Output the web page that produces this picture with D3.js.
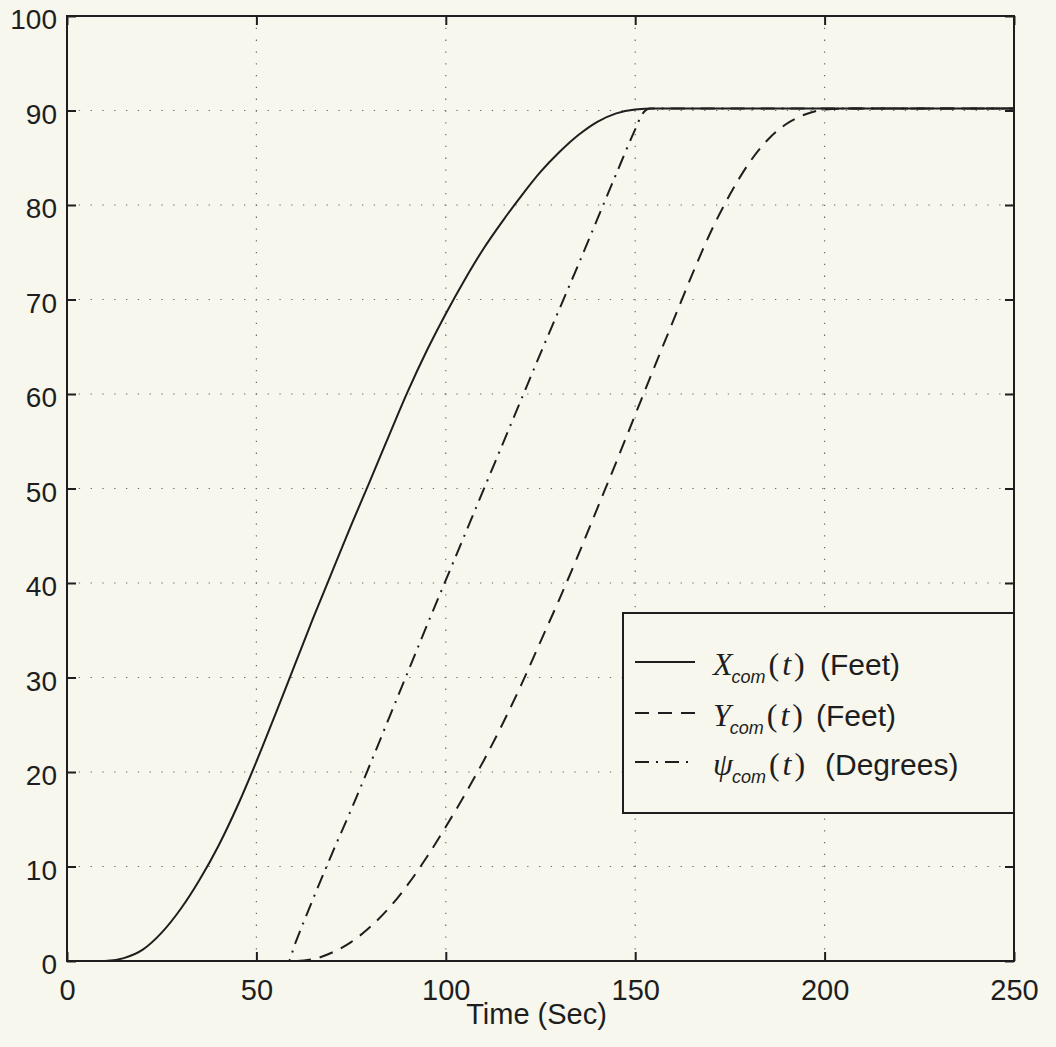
<!DOCTYPE html>
<html>
<head>
<meta charset="utf-8">
<script src="https://cdn.jsdelivr.net/npm/d3@7"></script>
<style>
  html, body { margin: 0; padding: 0; background: #f7f7ee; }
  svg { display: block; }
</style>
</head>
<body>
<svg id="chart" width="1056" height="1047"></svg>
<script>
// Axis ticks
const xTicks = [0, 50, 100, 150, 200, 250];
const yTicks = [0, 10, 20, 30, 40, 50, 60, 70, 80, 90, 100];

// X_com(t) in feet
const timeX = [0, 5, 10, 15, 20, 25, 30, 35, 40, 45, 50, 55, 60, 65, 70, 75, 80, 85, 90, 95,
               100, 105, 110, 115, 120, 125, 130, 135, 140, 145, 150, 155, 250];
const xCom  = [0, 0, 0, 0.3, 1.2, 3.0, 5.5, 8.6, 12.2, 16.4, 21.1, 26.1, 31.2, 36.3, 41.2, 46.1, 50.8, 55.6, 60.3, 64.6,
               68.5, 72.1, 75.4, 78.3, 81.0, 83.5, 85.6, 87.4, 88.8, 89.7, 90.1, 90.2, 90.2];

// Y_com(t) in feet
const timeY = [0, 60, 65, 70, 75, 80, 85, 90, 95, 100, 105, 110, 115, 120, 125, 130, 135, 140, 145,
               150, 155, 160, 165, 170, 175, 180, 185, 190, 195, 200, 205, 250];
const yCom  = [0, 0, 0.2, 0.9, 2.0, 3.6, 5.6, 8.1, 11.0, 14.2, 17.6, 21.2, 25.1, 29.3, 33.8, 38.3, 43.0, 47.9, 52.8,
               57.8, 62.8, 67.7, 72.6, 77.2, 81.1, 84.4, 86.9, 88.6, 89.6, 90.1, 90.2, 90.2];

// psi_com(t) in degrees
const timePsi = [0, 58.5, 60, 65, 70, 75, 80, 85, 90, 95, 100, 105, 110, 115, 120, 125, 130, 135, 140, 145,
                 150, 152, 154, 250];
const psiCom  = [0, 0, 1.6, 6.6, 11.4, 16.0, 20.8, 25.7, 30.6, 35.5, 40.3, 45.1, 49.9, 54.7, 59.5, 64.3, 69.0, 73.7, 78.5, 83.3,
                 88.0, 89.7, 90.2, 90.2];

const seriesNames = ["X", "Y", "psi"];

// line styles per series
const dashFor = { X: null, Y: "14,9", psi: "14,7,2,7" };

const ink = "#1e1e1e";
const bg = "#f7f7ee";

const svg = d3.select("#chart");
const plot = { left: 67, right: 1014, top: 16, bottom: 961 };

const x = d3.scaleLinear().domain([0, 250]).range([plot.left, plot.right]);
const y = d3.scaleLinear().domain([0, 100]).range([plot.bottom, plot.top]);

svg.append("rect").attr("width", 1056).attr("height", 1047).attr("fill", bg);

// dotted grid
const grid = svg.append("g").attr("stroke", "#6a6a6a").attr("stroke-width", 1.2)
  .attr("stroke-dasharray", "1.3,10.5");
grid.selectAll("line.gx").data(xTicks.slice(1, -1)).join("line")
  .attr("x1", d => x(d)).attr("x2", d => x(d))
  .attr("y1", plot.top).attr("y2", plot.bottom);
grid.selectAll("line.gy").data(yTicks.slice(1, -1)).join("line")
  .attr("y1", d => y(d)).attr("y2", d => y(d))
  .attr("x1", plot.left).attr("x2", plot.right);

// curves
const curves = {
  X: d3.zip(timeX, xCom),
  Y: d3.zip(timeY, yCom),
  psi: d3.zip(timePsi, psiCom)
};
const line = d3.line().x(d => x(d[0])).y(d => y(d[1])).curve(d3.curveMonotoneX);
svg.append("clipPath").attr("id", "plotclip").append("rect")
  .attr("x", plot.left).attr("y", plot.top)
  .attr("width", plot.right - plot.left).attr("height", plot.bottom - plot.top);
svg.append("g").attr("clip-path", "url(#plotclip)")
  .selectAll("path").data(seriesNames).join("path")
  .attr("d", k => line(curves[k]))
  .attr("fill", "none").attr("stroke", ink).attr("stroke-width", 2)
  .attr("stroke-dasharray", k => dashFor[k]);

// axes with inward ticks on all four sides
const tickLen = 9;
const fmt = d3.format("d");
const axB = svg.append("g").attr("transform", `translate(0,${plot.bottom})`)
  .call(d3.axisBottom(x).tickValues(xTicks).tickSize(-tickLen).tickFormat(fmt));
const axT = svg.append("g").attr("transform", `translate(0,${plot.top})`)
  .call(d3.axisTop(x).tickValues(xTicks).tickSize(-tickLen).tickFormat(""));
const axL = svg.append("g").attr("transform", `translate(${plot.left},0)`)
  .call(d3.axisLeft(y).tickValues(yTicks).tickSize(-tickLen).tickFormat(fmt));
const axR = svg.append("g").attr("transform", `translate(${plot.right},0)`)
  .call(d3.axisRight(y).tickValues(yTicks).tickSize(-tickLen).tickFormat(""));
[axB, axT, axL, axR].forEach(a => {
  a.select(".domain").remove();
  a.selectAll(".tick line").attr("stroke", ink).attr("stroke-width", 2);
  a.selectAll("text").attr("fill", ink)
    .style("font-family", "'Liberation Sans', Arial, Helvetica, sans-serif").style("font-size", "28px");
});
axB.selectAll("text").attr("dy", null).attr("y", 39).style("font-size", "29px");
axL.selectAll("text").attr("dy", "0.45em").attr("x", -10);

// frame
svg.append("rect").attr("x", plot.left).attr("y", plot.top)
  .attr("width", plot.right - plot.left).attr("height", plot.bottom - plot.top)
  .attr("fill", "none").attr("stroke", ink).attr("stroke-width", 2);

// x-axis title
svg.append("text").attr("x", (plot.left + plot.right) / 2 - 4).attr("y", 1024)
  .attr("text-anchor", "middle").attr("fill", ink)
  .style("font-family", "'Liberation Sans', Arial, sans-serif").style("font-size", "29px")
  .text("Time (Sec)");

// legend
const legend = { x: 623, y: 613, w: plot.right - 623, h: 200 };
svg.append("rect").attr("x", legend.x).attr("y", legend.y).attr("width", legend.w).attr("height", legend.h)
  .attr("fill", bg).attr("stroke", ink).attr("stroke-width", 2);

const legendSymbols = { X: "X", Y: "Y", psi: "\u03C8" };
const legendUnits = { X: "(Feet)", Y: "(Feet)", psi: "(Degrees)" };
const rowY = [662, 713, 762];
const unitX = [820, 816, 825];

seriesNames.forEach((k, i) => {
  const ry = rowY[i];
  svg.append("line").attr("x1", 635).attr("x2", 695).attr("y1", ry).attr("y2", ry)
    .attr("stroke", ink).attr("stroke-width", 2).attr("stroke-dasharray", dashFor[k]);
  const t = svg.append("text").attr("x", 713).attr("y", ry + 13).attr("fill", ink)
    .style("font-size", "32px");
  const serif = "'Liberation Serif', 'Times New Roman', serif";
  t.append("tspan").style("font-family", serif).style("font-style", "italic").text(legendSymbols[k]);
  t.append("tspan").attr("dy", 8).attr("dx", -1).style("font-family", "'Liberation Sans', Arial, sans-serif")
    .style("font-style", "italic").style("font-size", "18px").text("com");
  t.append("tspan").attr("dy", -8).attr("dx", 3).style("font-family", serif).text("(");
  t.append("tspan").attr("dx", 3).style("font-family", serif).style("font-style", "italic").text("t");
  t.append("tspan").attr("dx", 3).style("font-family", serif).text(")");
  t.append("tspan").attr("x", unitX[i]).style("font-family", "'Liberation Sans', Arial, sans-serif")
    .style("font-size", "30px").text(legendUnits[k]);
});
</script>
</body>
</html>
